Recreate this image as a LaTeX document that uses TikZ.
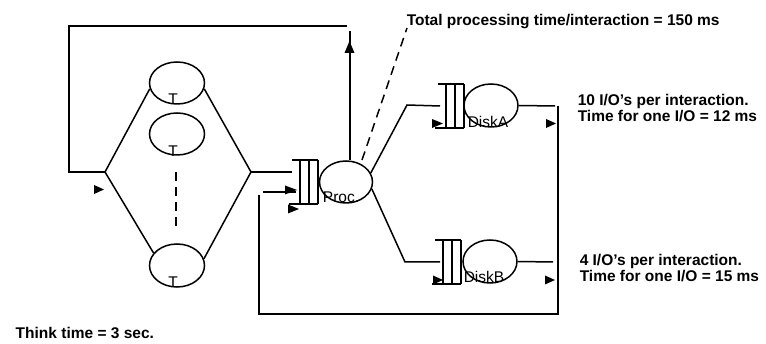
\documentclass[tikz,border=0pt]{standalone}
\usepackage{fontspec}
\setmainfont{Liberation Sans}
\usetikzlibrary{shapes.geometric}
\tikzset{
  queue/.pic={\draw (-26,0) -- (0,0) (-29,44) -- (0,44) (-18,0) -- (-18,44) (-9,0) -- (-9,44) (0,0) -- (0,44);},
}
\begin{document}
\begin{tikzpicture}[x=1pt,y=-1pt,line width=1.5pt,
  server/.style={draw,ellipse,inner sep=0pt,minimum width=55pt,minimum height=42pt},
  lbl/.style={font=\fontsize{15.5}{17}\selectfont,inner sep=0pt},
  note/.style={font=\fontsize{15.5}{17}\selectfont\bfseries,inner sep=0pt,anchor=base west},
  tipmark/.style={fill=black,draw=none},
  dashline/.style={dash pattern=on 9pt off 6pt}]
\useasboundingbox (0,0) rectangle (766,344);

% servers
\node[server] (T1) at (177,83) {};
\node[server] (T2) at (177,134) {};
\node[server,minimum height=43pt] (T3) at (177,265.5) {};
\node[server,minimum width=53pt] (proc) at (346,182) {};
\node[server,minimum width=54pt,minimum height=43pt] (diskA) at (491,105.5) {};
\node[server,minimum width=54pt,minimum height=43pt] (diskB) at (490,261.5) {};

\node[lbl] (T1l) at (173,99) {T};
\node[lbl] (T2l) at (173,151) {T};
\node[lbl] (T3l) at (173,282) {T};
\node[lbl] (procl) at (341,197) {Proc.};
\node[lbl] (diskAl) at (488,122) {DiskA};
\node[lbl] (diskBl) at (484,277) {DiskB};

% queues
\pic (qP) at (318,160) {queue};
\pic (qA) at (464,84) {queue};
\pic (qB) at (461,240) {queue};

% coordinates
\coordinate (forkL) at (105,172);
\coordinate (forkR) at (251,172);
\coordinate (loopTL) at (69,26);
\coordinate (loopTR) at (347,26);
\coordinate (upTop) at (350,31);
\coordinate (dTop) at (176,172);
\coordinate (dBot) at (176,231);
\coordinate (procIn) at (292,172);
\coordinate (aBend) at (407,105);
\coordinate (aIn) at (440,106);
\coordinate (bBend) at (405,262);
\coordinate (bIn) at (440,262);
\coordinate (aOut) at (555,106);
\coordinate (bOut) at (553,262);
\coordinate (rTop) at (558,106);
\coordinate (rBot) at (558,314);
\coordinate (lBot) at (259,314);
\coordinate (lTop) at (259,195);
\coordinate (fbStart) at (263,192);
\coordinate (fbEnd) at (296,192);
\coordinate (dashBot) at (362,160);
\coordinate (dashTop) at (407,28);

% terminals loop
\draw (loopTR) -- (loopTL) -- (loopTL |- forkL) -- (forkL);
\draw (forkL) -- (T1.192);
\draw (T1.348) -- (forkR);
\draw (forkL) -- (T3.152);
\draw (T3.14) -- (forkR);
\draw[dashline] (dTop) -- (dBot);
\draw (forkR) -- (procIn);

% processor
\draw (upTop |- proc.north) -- (upTop);
\fill[tipmark] (349.5,41) -- (344.5,53) -- (354.5,53) -- cycle;
\draw[dashline] (dashBot) -- (dashTop);

% disks
\draw (proc.20) -- (aBend) -- (aIn);
\draw (proc.-15) -- (bBend) -- (bIn);
\draw (diskA.east) -- (aOut);
\draw (diskB.east) -- (bOut);
\draw (rTop) -- (rBot) -- (lBot) -- (lTop);
\draw (fbStart) -- (fbEnd);

% flow marks
\fill[tipmark] (104,189.5) -- ++(-10,-4.5) -- ++(0,9) -- cycle;
\fill[tipmark] (297,190) -- ++(-12,-4.5) -- ++(0,9) -- cycle;
\fill[tipmark] (299,209) -- ++(-11,-4.5) -- ++(0,9) -- cycle;
\fill[tipmark] (443,123.5) -- ++(-11,-4.5) -- ++(0,9) -- cycle;
\fill[tipmark] (556,123.5) -- ++(-10,-4.5) -- ++(0,9) -- cycle;
\fill[tipmark] (443,280) -- ++(-10,-4.5) -- ++(0,9) -- cycle;
\fill[tipmark] (555,280) -- ++(-10,-4.5) -- ++(0,9) -- cycle;

% notes
\node[note] (total) at (406,26) {Total processing time/interaction = 150 ms};
\node[note] (a1) at (577,106) {10 I/O’s per interaction.};
\node[note] (a2) at (577,122) {Time for one I/O = 12 ms};
\node[note] (b1) at (579,266) {4 I/O’s per interaction.};
\node[note] (b2) at (579,282) {Time for one I/O = 15 ms};
\node[note] (think) at (15,339) {Think time = 3 sec.};
\end{tikzpicture}
\end{document}
